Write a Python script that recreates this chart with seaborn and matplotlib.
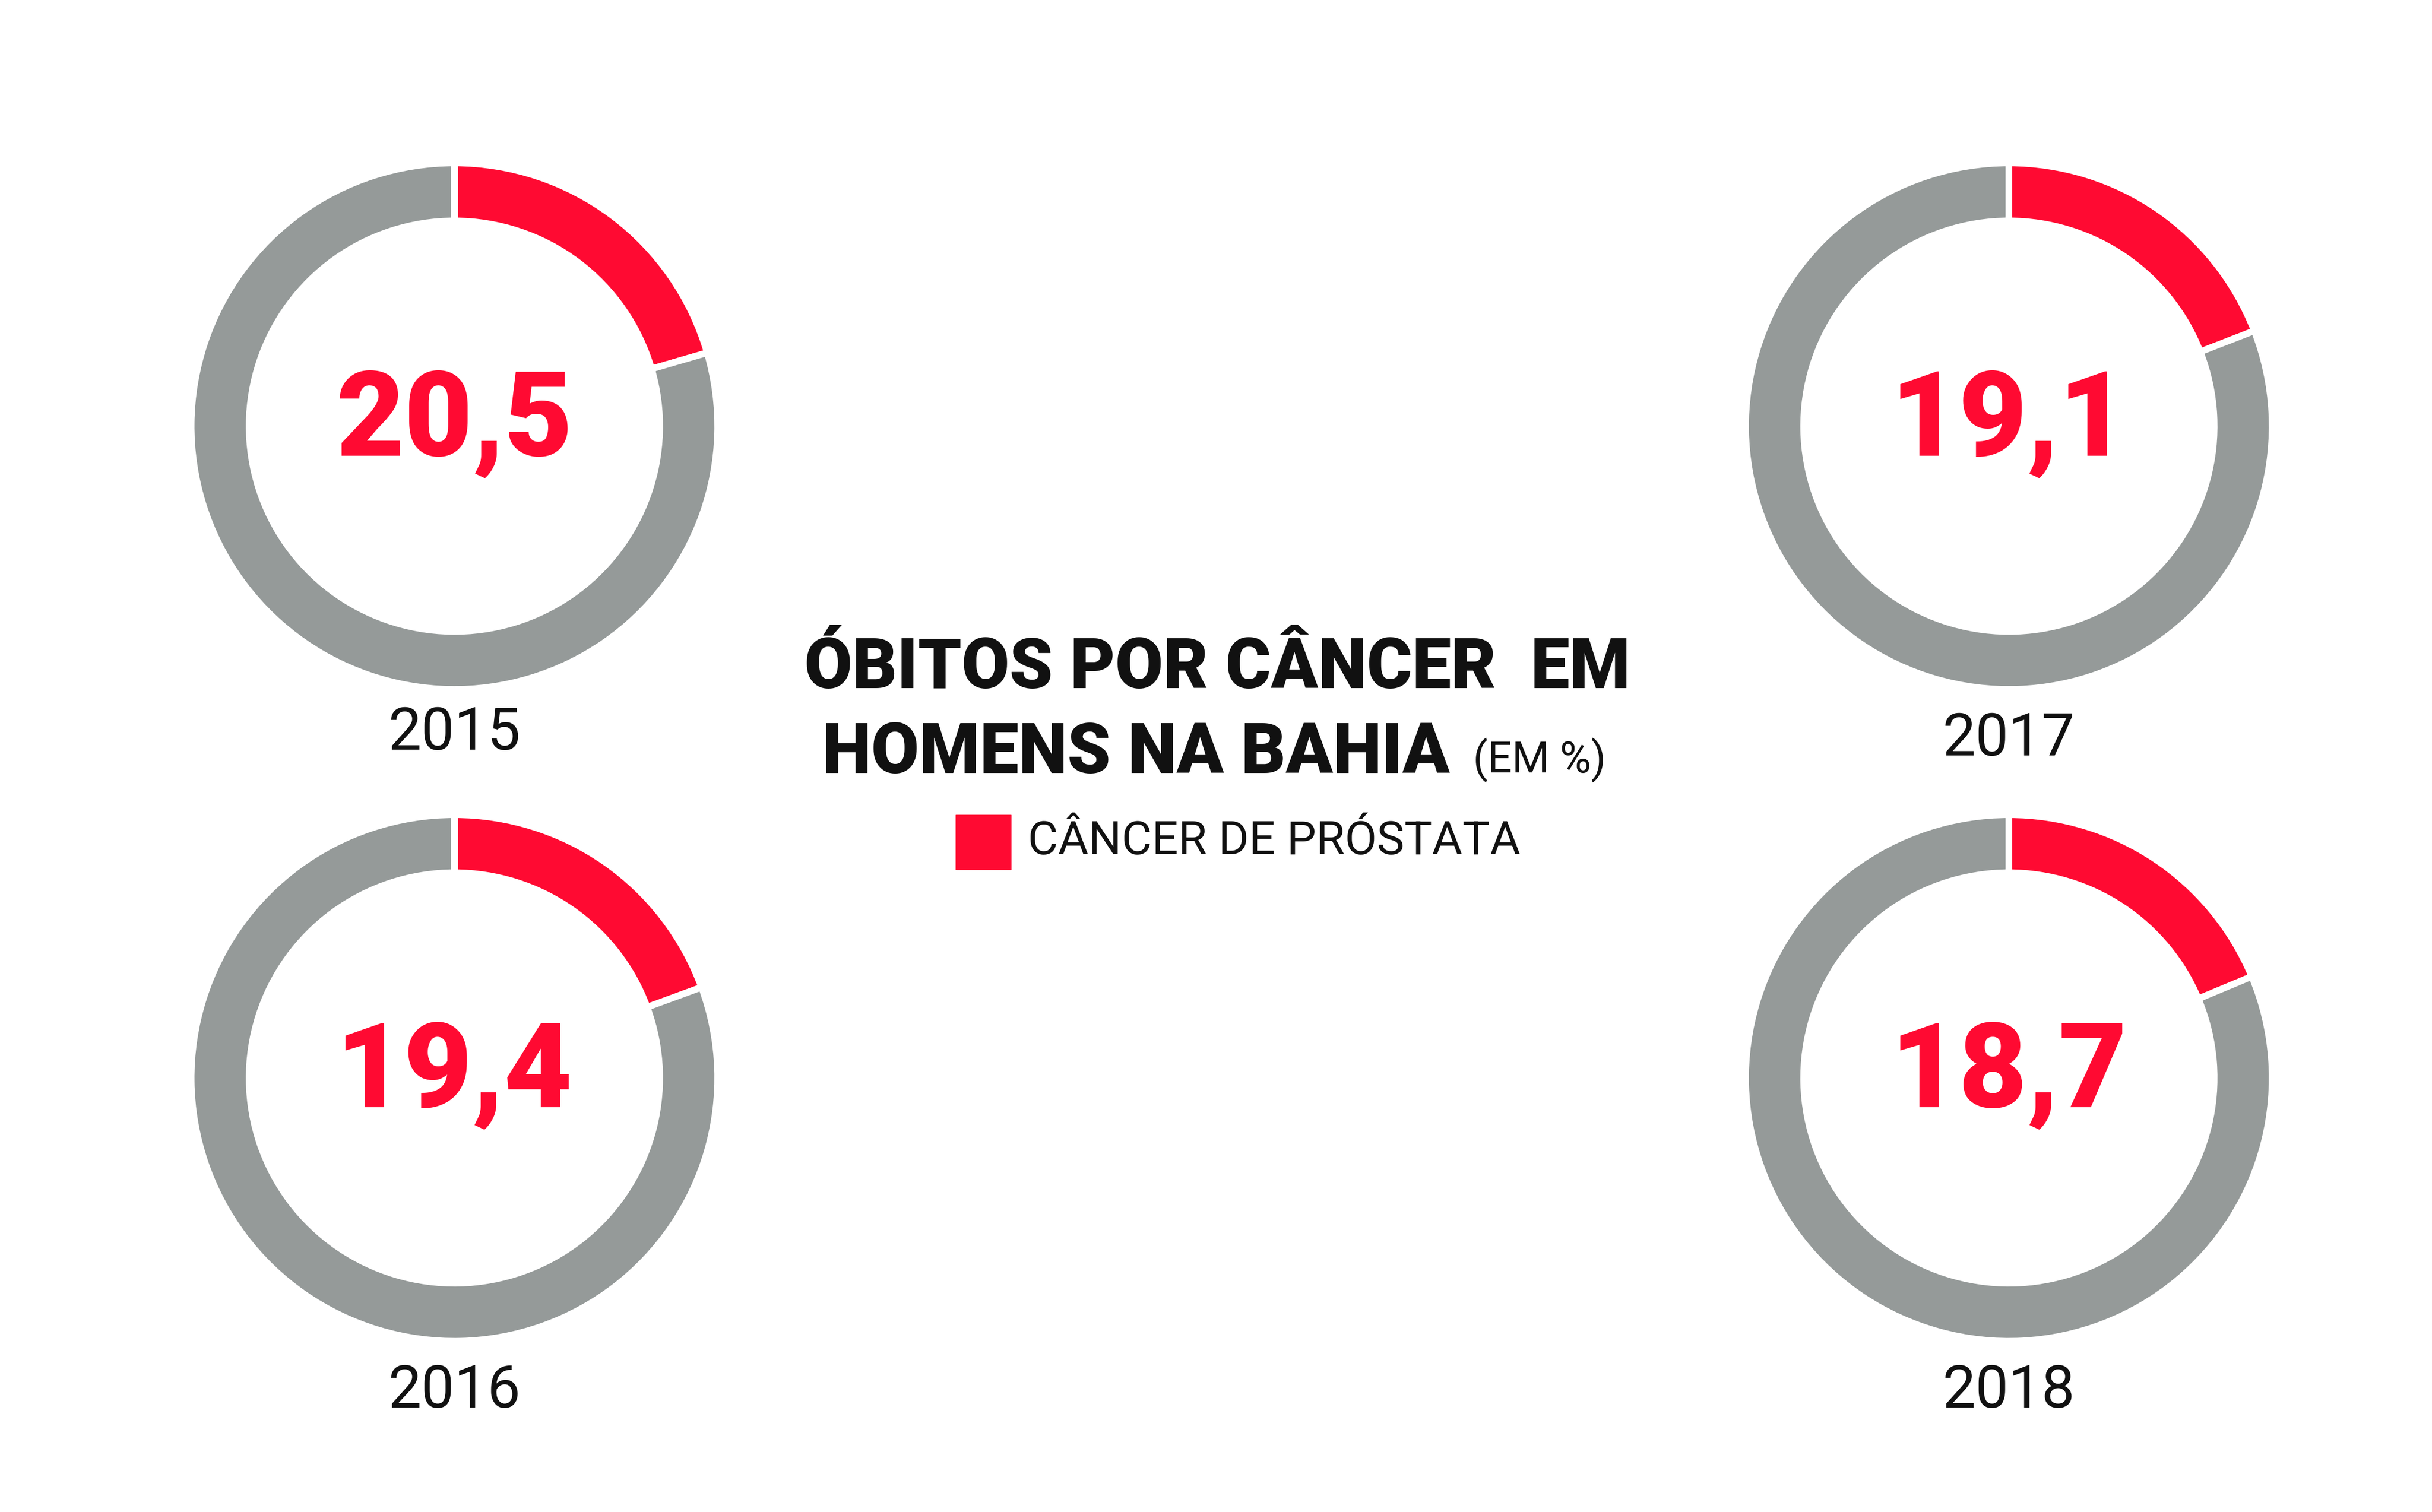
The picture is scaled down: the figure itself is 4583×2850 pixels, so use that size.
import matplotlib.pyplot as plt
import seaborn as sns

years = ["2015", "2017", "2016", "2018"]
prostata = [20.5, 19.1, 19.4, 18.7]
value_labels = ["20,5", "19,1", "19,4", "18,7"]

RED = "#FF0A32"
GREY = "#959A99"

sns.set_theme(style="white", font="Roboto")

W, H = 1552, 965
fig = plt.figure(figsize=(45.83, 28.5), dpi=100)
ax = fig.add_axes([0, 0, 1, 1])

centers = [(290, 272), (1282, 272), (290, 688), (1282, 688)]
year_y = [468, 472, 888, 888]

for yr, val, lab, (cx, cy), yy in zip(years, prostata, value_labels, centers, year_y):
    ax.pie([val, 100 - val], colors=[RED, GREY], startangle=90, counterclock=False,
           center=(cx, H - cy), radius=168, frame=True,
           wedgeprops=dict(width=37, edgecolor="white", linewidth=9))
    ax.text(cx, H - cy + 2, lab, color=RED, fontsize=160, fontweight="black",
            ha="center", va="center")
    ax.text(cx, H - yy, yr, color="#111111", fontsize=80, ha="center", va="center")

ax.set_xlim(0, W)
ax.set_ylim(0, H)
ax.set_aspect("auto")
ax.axis("off")

ax.text(777, H - 427, "ÓBITOS POR CÂNCER  EM", fontsize=94, fontweight="black",
        color="#111111", ha="center", va="center")
ax.text(925, H - 481, "HOMENS NA BAHIA", fontsize=94, fontweight="black",
        color="#111111", ha="right", va="center")
ax.text(940, H - 485, "(EM %)", fontsize=58, color="#111111", ha="left", va="center")
ax.add_patch(plt.Rectangle((610, H - 555), 35, 35, color=RED))
ax.text(656, H - 537, "CÂNCER DE PRÓSTATA", fontsize=63, color="#111111",
        ha="left", va="center")

fig.savefig("out.png", dpi=100, facecolor="white")
